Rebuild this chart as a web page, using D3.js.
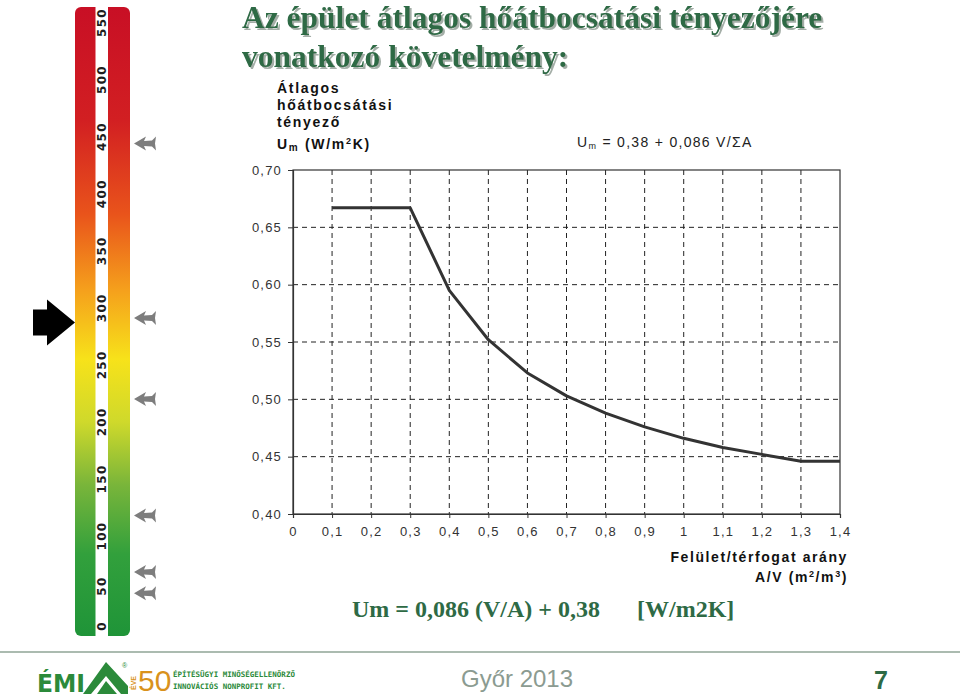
<!DOCTYPE html>
<html>
<head>
<meta charset="utf-8">
<script src="https://cdn.jsdelivr.net/npm/d3@7"></script>
<style>
  html, body { margin: 0; padding: 0; background: #ffffff; }
  svg { display: block; }
</style>
</head>
<body>
<svg id="chart" width="960" height="697"></svg>
<script>
// ---------- data ----------
const titleLines = ["Az épület átlagos hőátbocsátási tényezőjére", "vonatkozó követelmény:"];
const avRatio  = [0.1, 0.3, 0.4, 0.5, 0.6, 0.7, 0.8, 0.9, 1.0, 1.1, 1.2, 1.3, 1.4];
const umValues = [0.667, 0.667, 0.595, 0.552, 0.523, 0.503, 0.488, 0.476, 0.466, 0.458, 0.452, 0.446, 0.446];
const xTickValues = [0, 0.1, 0.2, 0.3, 0.4, 0.5, 0.6, 0.7, 0.8, 0.9, 1.0, 1.1, 1.2, 1.3, 1.4];
const xTickLabels = ["0", "0,1", "0,2", "0,3", "0,4", "0,5", "0,6", "0,7", "0,8", "0,9", "1", "1,1", "1,2", "1,3", "1,4"];
const yTickValues = [0.40, 0.45, 0.50, 0.55, 0.60, 0.65, 0.70];
const yTickLabels = ["0,40", "0,45", "0,50", "0,55", "0,60", "0,65", "0,70"];
const yTitleLines = ["Átlagos", "hőátbocsátási", "tényező"];
const xTitleLines = ["Felület/térfogat arány"];
const barTicks = [0, 50, 100, 150, 200, 250, 300, 350, 400, 450, 500, 550];
const grayArrowValues = [444, 291, 220, 118, 64, 41];
const blackArrowValues = [287];

// ---------- setup ----------
const svg = d3.select("#chart");
const green = "#2e6a45";
const defs = svg.append("defs");
const shadow = defs.append("filter").attr("id", "titleShadow")
  .attr("x", "-5%").attr("y", "-30%").attr("width", "110%").attr("height", "170%");
shadow.append("feDropShadow").attr("dx", 2).attr("dy", 2)
  .attr("stdDeviation", 0.6).attr("flood-color", "#9aa59e").attr("flood-opacity", 0.9);

// ---------- title ----------
const title = svg.append("g").attr("filter", "url(#titleShadow)");
titleLines.forEach((t, i) => {
  title.append("text").attr("x", 242).attr("y", 28 + i * 39)
    .attr("fill", green)
    .style("font-family", "'Liberation Serif', 'Times New Roman', serif")
    .style("font-weight", "bold").style("font-size", "31.5px").text(t);
});

// ---------- left colour scale bar ----------
const barX0 = 75, barX1 = 130, barY0 = 7, barY1 = 636;
const barScale = d3.scaleLinear().domain([0, 50, 100, 550]).range([626, 586, 536, 22.5]);
const grad = defs.append("linearGradient").attr("id", "energyGrad")
  .attr("x1", 0).attr("y1", 0).attr("x2", 0).attr("y2", 1);
[[0, "#c80f25"], [0.18, "#d21f22"], [0.33, "#e9541b"], [0.45, "#f5a01c"],
 [0.56, "#f7e21a"], [0.66, "#cfd92b"], [0.76, "#79b53a"], [0.87, "#32a03c"], [1, "#1f9438"]]
  .forEach(([o, c]) => grad.append("stop").attr("offset", o).attr("stop-color", c));

svg.append("rect").attr("x", barX0).attr("y", barY0)
  .attr("width", barX1 - barX0).attr("height", barY1 - barY0)
  .attr("rx", 6).attr("fill", "url(#energyGrad)");
svg.append("rect").attr("x", 95.5).attr("y", barY0)
  .attr("width", 12.5).attr("height", barY1 - barY0).attr("fill", "#ffffff");

svg.append("g").selectAll("text").data(barTicks).join("text")
  .attr("transform", d => `translate(102,${barScale(d)}) rotate(-90)`)
  .attr("text-anchor", "middle").attr("dominant-baseline", "central")
  .attr("fill", "#1e1e1e")
  .style("font-family", "'DejaVu Sans', sans-serif")
  .style("font-weight", "bold").style("font-size", "12px")
  .style("letter-spacing", "1.3px")
  .text(d => d);

// gray arrows (pointing left)
const grayArrowPath = "M0,0 L12,-7 L10,-2.5 L18,-3 L22,-7 L21,0 L22,7 L18,3 L10,2.5 L12,7 Z";
svg.append("g").selectAll("path").data(grayArrowValues).join("path")
  .attr("transform", d => `translate(134,${barScale(d)})`)
  .attr("d", grayArrowPath).attr("fill", "#7d7d7d");

// black arrow (pointing right)
const blackArrowPath = "M0,0 L-28,-23 L-28,-13 L-42,-13 L-42,13 L-28,13 L-28,23 Z";
svg.append("g").selectAll("path").data(blackArrowValues).join("path")
  .attr("transform", d => `translate(75,${barScale(d)})`)
  .attr("d", blackArrowPath).attr("fill", "#000");

// ---------- main chart ----------
const x = d3.scaleLinear().domain([0, 1.4]).range([293, 840]);
const y = d3.scaleLinear().domain([0.40, 0.70]).range([514, 170]);
const chartFont = "'Liberation Sans', Arial, sans-serif";

// dashed grid
const grid = svg.append("g").attr("stroke", "#222").attr("stroke-width", 1)
  .attr("stroke-dasharray", "5,4");
grid.selectAll("line.v").data(xTickValues.slice(1, -1)).join("line")
  .attr("x1", d => x(d)).attr("x2", d => x(d))
  .attr("y1", y(0.70)).attr("y2", y(0.40));
grid.selectAll("line.h").data(yTickValues.slice(1, -1)).join("line")
  .attr("x1", x(0)).attr("x2", x(1.4))
  .attr("y1", d => y(d)).attr("y2", d => y(d));

// frame
svg.append("rect").attr("x", x(0)).attr("y", y(0.70))
  .attr("width", x(1.4) - x(0)).attr("height", y(0.40) - y(0.70))
  .attr("fill", "none").attr("stroke", "#333").attr("stroke-width", 1.2);

// axes
const yAxis = svg.append("g").attr("transform", `translate(${x(0)},0)`)
  .call(d3.axisLeft(y).tickValues(yTickValues)
    .tickFormat((d, i) => yTickLabels[i]).tickSize(5).tickPadding(6));
const xAxis = svg.append("g").attr("transform", `translate(0,${y(0.40)})`)
  .call(d3.axisBottom(x).tickValues(xTickValues)
    .tickFormat((d, i) => xTickLabels[i]).tickSize(4).tickPadding(9));
[yAxis, xAxis].forEach(a => {
  a.select(".domain").attr("stroke", "#333").attr("stroke-width", 1.2);
  a.selectAll(".tick line").attr("stroke", "#333");
  a.selectAll(".tick text").attr("fill", "#333")
    .style("font-family", chartFont).style("font-size", "13px")
    .style("letter-spacing", "1.2px");
});

// curve
const line = d3.line().x((d, i) => x(avRatio[i])).y(d => y(d));
svg.append("path").datum(umValues)
  .attr("d", line).attr("fill", "none")
  .attr("stroke", "#333").attr("stroke-width", 3)
  .attr("stroke-linejoin", "round");

// y-axis title
const yTitle = svg.append("g").attr("fill", "#111")
  .style("font-family", chartFont).style("font-weight", "bold")
  .style("font-size", "14px").style("letter-spacing", "1.7px");
yTitleLines.forEach((t, i) => {
  yTitle.append("text").attr("x", 277).attr("y", 93 + i * 17).text(t);
});
const umLabel = yTitle.append("text").attr("x", 277).attr("y", 149);
umLabel.append("tspan").text("U");
umLabel.append("tspan").attr("dy", 2).style("font-size", "10px").text("m");
umLabel.append("tspan").attr("dy", -2).text(" (W/m");
umLabel.append("tspan").attr("dy", -5).style("font-size", "9px").text("2");
umLabel.append("tspan").attr("dy", 5).text("K)");

// formula in chart
const f1 = svg.append("text").attr("x", 577).attr("y", 147).attr("fill", "#222")
  .style("font-family", chartFont).style("font-size", "14px").style("letter-spacing", "1.3px");
f1.append("tspan").text("U");
f1.append("tspan").attr("dy", 2).style("font-size", "9px").text("m");
f1.append("tspan").attr("dy", -2).text(" = 0,38 + 0,086 V/ΣA");

// x-axis title
const xt = svg.append("g").attr("fill", "#111")
  .style("font-family", chartFont).style("font-weight", "bold")
  .style("font-size", "14px").style("letter-spacing", "1.6px")
  .attr("text-anchor", "end");
xt.append("text").attr("x", 848).attr("y", 562).text(xTitleLines[0]);
const avl = xt.append("text").attr("x", 848).attr("y", 582);
avl.append("tspan").text("A/V (m");
avl.append("tspan").attr("dy", -5).style("font-size", "9px").text("2");
avl.append("tspan").attr("dy", 5).text("/m");
avl.append("tspan").attr("dy", -5).style("font-size", "9px").text("3");
avl.append("tspan").attr("dy", 5).text(")");

// ---------- big formula ----------
const bigF = svg.append("g").attr("fill", green)
  .style("font-family", "'Liberation Serif', 'Times New Roman', serif")
  .style("font-weight", "bold").style("font-size", "24px");
bigF.append("text").attr("x", 352).attr("y", 617).text("Um = 0,086 (V/A) + 0,38");
bigF.append("text").attr("x", 637).attr("y", 617).text("[W/m2K]");

// ---------- footer ----------
svg.append("line").attr("x1", 0).attr("x2", 960).attr("y1", 652).attr("y2", 652)
  .attr("stroke", "#8fa596").attr("stroke-width", 1.5);
svg.append("text").attr("x", 461).attr("y", 687).attr("fill", "#8b9b91")
  .style("font-family", chartFont).style("font-size", "24px").text("Győr 2013");
svg.append("text").attr("x", 874).attr("y", 689).attr("fill", green)
  .style("font-family", chartFont).style("font-weight", "bold").style("font-size", "25px").text("7");

// logo
const logo = svg.append("g");
logo.append("text").attr("x", 37).attr("y", 692).attr("fill", "#2b8a3a")
  .attr("textLength", 48).attr("lengthAdjust", "spacingAndGlyphs")
  .style("font-family", "'DejaVu Sans', sans-serif").style("font-weight", "bold")
  .style("font-size", "24px").text("ÉMI");
logo.append("path").attr("d", "M83,694 L106,662 L128,686 L128,694 L121,694 L106,676 L91,694 Z")
  .attr("fill", "#2b8a3a");
logo.append("path").attr("d", "M97,694 L106,681 L117,694 Z").attr("fill", "#2b8a3a");
logo.append("text").attr("x", 122).attr("y", 668).attr("fill", "#2b8a3a")
  .style("font-family", chartFont).style("font-size", "7px").text("®");
logo.append("text").attr("transform", "translate(136,690) rotate(-90)").attr("fill", "#d9921c")
  .style("font-family", chartFont).style("font-weight", "bold").style("font-size", "7px").text("ÉVE");
logo.append("text").attr("x", 138).attr("y", 691).attr("fill", "#d9921c")
  .style("font-family", "'Liberation Sans Narrow', 'Liberation Sans', sans-serif")
  .style("font-size", "30px").text("50");
const lt = logo.append("g").attr("fill", "#2b8a3a")
  .style("font-family", "'DejaVu Sans Mono', monospace").style("font-weight", "bold")
  .style("font-size", "7.5px");
lt.append("text").attr("x", 173).attr("y", 677).text("ÉPÍTÉSÜGYI MINŐSÉGELLENŐRZŐ");
lt.append("text").attr("x", 173).attr("y", 689).text("INNOVÁCIÓS NONPROFIT KFT.");
</script>
</body>
</html>
